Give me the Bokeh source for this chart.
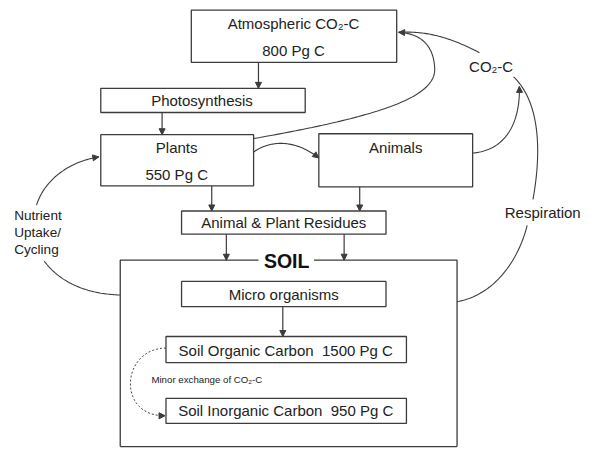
from bokeh.plotting import figure
from bokeh.models import Range1d, Arrow, NormalHead
from bokeh.core.properties import value
from bokeh.embed import file_html
from bokeh.resources import INLINE
import numpy as np

# ---- diagram content ----
box_names = ["atm", "photo", "plants", "animals", "residues", "micro", "soc", "sic"]
box_left = [196, 103, 103, 327, 186, 186, 170, 170]
box_top = [10, 91, 139, 138, 218, 291, 348, 412]
box_right = [407, 313, 260, 485, 396, 396, 417, 417]
box_bottom = [64, 116, 192, 193, 242, 317, 375, 438]

NB = "\u00a0"
labels = ["Atmospheric CO\u2082-C", "800 Pg C", "Photosynthesis", "Plants", "550 Pg C",
          "Animals", "Animal & Plant Residues", "Micro organisms",
          "Soil Organic Carbon" + NB + NB + "1500 Pg C",
          "Soil Inorganic Carbon" + NB + NB + "950 Pg C",
          "CO\u2082-C", "Respiration"]
label_x = [301, 301, 207, 181, 181, 406, 291, 291, 293, 293, 504, 557]
label_y = [24, 52, 104, 152, 180, 152, 230, 304, 362, 425, 68, 220]

side_labels = ["Nutrient", "Uptake/", "Cycling"]
side_x = [14, 14, 14]
side_y = [223, 240, 258]

soil_title = "SOIL"
minor_text = "Minor exchange of CO\u2082-C"

# straight arrows (x, y_start, y_end)
arrow_x = [265, 166, 217, 369, 232, 353, 290]
arrow_y0 = [64, 116, 192, 193, 242, 242, 317]
arrow_y1 = [91, 139, 218, 218, 269, 269, 348]

# curved connectors: cubic bezier control points, with flag for arrowhead at end
curves = [
    # plants -> atmosphere
    ([(260, 143), (390, 120), (448, 100), (446, 70)], False),
    ([(446, 70), (445, 47), (432, 34), (409, 33)], True),
    # CO2-C -> atmosphere
    ([(492, 54), (465, 40), (440, 31), (409, 33)], False),
    # plants -> animals
    ([(260, 157), (275, 146), (300, 142), (327, 163)], True),
    # animals -> CO2-C
    ([(485, 158), (522, 155), (534, 122), (533, 89)], True),
    # respiration (soil -> CO2-C), split around label
    ([(469, 312), (512, 304), (534, 262), (541, 233)], False),
    ([(547, 206), (557, 150), (552, 103), (527, 79)], False),
    # nutrient uptake / cycling
    ([(37, 212), (45, 186), (70, 167), (101, 162)], True),
    ([(45, 270), (62, 293), (90, 304), (123, 305)], False),
]
dashed_curve = [(170, 360), (124, 360), (119, 431), (169, 430)]

LINE = "#3c3c3c"
TEXT = "#222222"
FONT = "Liberation Sans"

p = figure(width=587, height=448, x_range=Range1d(0, 603), y_range=Range1d(464, 0),
           x_axis_type=None, y_axis_type=None, toolbar_location=None,
           output_backend="svg", min_border=0)
p.grid.visible = False
p.outline_line_color = None
p.background_fill_color = "white"
p.border_fill_color = "white"


def bez(pts, n=60):
    t = np.linspace(0, 1, n)
    P = np.array(pts, dtype=float)
    c = ((1 - t) ** 3)[:, None] * P[0] + (3 * (1 - t) ** 2 * t)[:, None] * P[1] \
        + (3 * (1 - t) * t ** 2)[:, None] * P[2] + (t ** 3)[:, None] * P[3]
    return c[:, 0], c[:, 1]


def head(x0, y0, x1, y1):
    d = np.hypot(x1 - x0, y1 - y0)
    ux, uy = (x1 - x0) / d, (y1 - y0) / d
    p.add_layout(Arrow(end=NormalHead(size=6, line_color=LINE, fill_color=LINE, line_width=1),
                       x_start=x1 - ux * 2, y_start=y1 - uy * 2, x_end=x1, y_end=y1,
                       line_color=LINE, line_width=1))


# boxes
p.quad(left=box_left, right=box_right, top=box_top, bottom=box_bottom,
       fill_color="white", line_color=LINE, line_width=1.3)

# soil box with gap for title
p.multi_line(xs=[[265, 123, 123], [322, 469, 469], [123, 469]],
             ys=[[269, 269, 462], [269, 269, 462], [462, 462]],
             line_color=LINE, line_width=1.3)

# straight arrows
p.segment(x0=arrow_x, y0=arrow_y0, x1=arrow_x, y1=arrow_y1, line_color=LINE, line_width=1.2)
for ax, ay0, ay1 in zip(arrow_x, arrow_y0, arrow_y1):
    head(ax, ay0, ax, ay1)

# curves
for pts, has_head in curves:
    cx, cy = bez(pts)
    p.line(cx, cy, line_color=LINE, line_width=1.1)
    if has_head:
        head(pts[2][0], pts[2][1], pts[3][0], pts[3][1])

cx, cy = bez(dashed_curve)
p.line(cx, cy, line_color=LINE, line_width=1, line_dash="2 2")
head(dashed_curve[2][0], dashed_curve[2][1], dashed_curve[3][0], dashed_curve[3][1])

# texts
p.text(x=label_x, y=label_y, text=labels, text_font=value(FONT), text_font_size=value("15px"),
       text_align="center", text_baseline="middle", text_color=TEXT)
p.text(x=side_x, y=side_y, text=side_labels, text_font=value(FONT), text_font_size=value("13.6px"),
       text_align="left", text_baseline="middle", text_color=TEXT)
p.text(x=[294], y=[270], text=[soil_title], text_font=value(FONT), text_font_size=value("19.5px"),
       text_font_style="bold", text_align="center", text_baseline="middle", text_color="#111111")
p.text(x=[155], y=[393], text=[minor_text], text_font=value(FONT), text_font_size=value("9.7px"),
       text_align="left", text_baseline="middle", text_color=TEXT)

open("out.html", "w").write(file_html(p, INLINE))
